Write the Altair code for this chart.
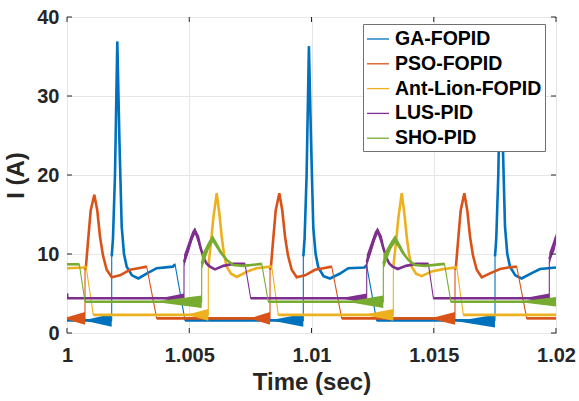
import altair as alt
import pandas as pd

NAMES = ["GA-FOPID", "PSO-FOPID", "Ant-Lion-FOPID", "LUS-PID", "SHO-PID"]
COLORS = ["#0072BD", "#D95319", "#EDB120", "#7E2F8E", "#77AC30"]

X_TICKS = [1.0, 1.005, 1.01, 1.015, 1.02]
Y_TICKS = [0, 10, 20, 30, 40]

# Inductor current traces: time (s) and current (A)
ga_t = [1.0, 1.001828, 1.001829, 1.001881, 1.001963, 1.002057, 1.002147, 1.002237, 1.002331,
        1.002442, 1.002658, 1.002916, 1.003313, 1.003669, 1.004335, 1.004417, 1.004826,
        1.009665, 1.009666, 1.009718, 1.009800, 1.009894, 1.009984, 1.010074, 1.010168,
        1.010279, 1.010495, 1.010753, 1.011150, 1.011506, 1.012172, 1.012254, 1.012663,
        1.017505, 1.017506, 1.017558, 1.017640, 1.017734, 1.017824, 1.017914, 1.018008,
        1.018119, 1.018335, 1.018593, 1.018990, 1.019346, 1.020]
ga_i = [1.6, 1.6, 9.7, 12, 20, 36.9, 24, 13.5, 10, 8.4, 7.3, 6.9, 7.6, 8.2, 8.4, 8.7, 1.6,
        1.6, 9.7, 12, 20, 36.3, 24, 13.3, 10, 8.3, 7.2, 6.9, 7.5, 8.2, 8.3, 8.6, 1.6,
        1.6, 9.7, 12, 20, 36.5, 24, 13.5, 10, 8.4, 7.3, 6.9, 7.55, 8.1, 8.3]

pso_t = [1.0, 1.000736, 1.000737, 1.000777, 1.000871, 1.000969, 1.001117, 1.001239, 1.001350,
         1.001472, 1.001624, 1.001828, 1.002168, 1.002577, 1.002916, 1.003260, 1.003669,
         1.008303, 1.008304, 1.008344, 1.008438, 1.008536, 1.008684, 1.008806, 1.008917,
         1.009039, 1.009191, 1.009395, 1.009735, 1.010144, 1.010483, 1.010827, 1.011236,
         1.015869, 1.015870, 1.015910, 1.016004, 1.016102, 1.016250, 1.016372, 1.016483,
         1.016605, 1.016757, 1.016961, 1.017301, 1.017710, 1.018049, 1.018393, 1.018802, 1.020]
pso_i = [1.85, 1.85, 8.0, 8.5, 12, 15.5, 17.5, 15.5, 12.2, 9.8, 8.0, 7.05, 7.3, 8.0, 8.2, 8.4, 1.85,
         1.85, 8.0, 8.5, 12, 15.5, 17.7, 15.5, 12.2, 9.8, 8.0, 7.05, 7.3, 8.0, 8.2, 8.4, 1.85,
         1.85, 8.0, 8.5, 12, 15.5, 17.7, 15.5, 12.2, 9.8, 8.0, 7.05, 7.55, 8.1, 8.3, 8.4, 1.85, 1.85]

al_t = [1.0, 1.000700, 1.000777, 1.001076, 1.005779, 1.005780, 1.005890, 1.005984, 1.006123,
        1.006237, 1.006327, 1.006421, 1.006532, 1.006708, 1.006941, 1.007350, 1.007759,
        1.008303, 1.008372, 1.008642,
        1.013346, 1.013347, 1.013457, 1.013551, 1.013690, 1.013804, 1.013894, 1.013988,
        1.014099, 1.014275, 1.014508, 1.014917, 1.015326, 1.015870, 1.015939, 1.016209, 1.020]
al_i = [8.2, 8.3, 8.45, 2.3, 2.3, 8.4, 11.5, 14.5, 17.7, 15, 12.2, 10, 8.4, 7.5, 7.1, 7.75, 8.2,
        8.4, 8.45, 2.3,
        2.3, 8.4, 11.5, 14.5, 17.7, 15, 12.2, 10, 8.4, 7.5, 7.2, 7.8, 8.05, 8.3, 8.35, 2.3, 2.3]

lus_t = [1.0, 1.000020, 1.004785, 1.004786, 1.004949, 1.005112, 1.005235, 1.005358, 1.005460,
         1.005575, 1.005706, 1.005849, 1.006053, 1.006393, 1.006802, 1.007280, 1.007513,
         1.012258, 1.012259, 1.012422, 1.012585, 1.012708, 1.012831, 1.012933, 1.013048,
         1.013179, 1.013322, 1.013526, 1.013866, 1.014275, 1.014780, 1.014986,
         1.019726, 1.019727, 1.019890, 1.020]
lus_i = [5.0, 4.4, 4.4, 9.0, 10.5, 12.2, 12.95, 12.2, 10.8, 9.65, 8.8, 8.4, 8.05, 8.5, 8.75, 8.75, 4.4,
         4.4, 9.0, 10.5, 12.2, 12.95, 12.2, 10.8, 9.65, 8.8, 8.4, 8.1, 8.5, 8.75, 8.75, 4.4,
         4.4, 9.4, 10.5, 12.1]

sho_t = [1.0, 1.000503, 1.000736, 1.005509, 1.005510, 1.005700, 1.005794, 1.005960, 1.006124,
         1.006258, 1.006532, 1.006802, 1.007211, 1.007964, 1.008233,
         1.012937, 1.012938, 1.013128, 1.013250, 1.013420, 1.013580, 1.013700, 1.013960,
         1.014230, 1.014639, 1.015440, 1.015700, 1.020]
sho_i = [8.7, 8.7, 3.95, 3.95, 8.8, 10.3, 11.1, 11.95, 11.1, 10.3, 9.25, 8.6, 8.5, 8.75, 3.95,
         3.95, 8.8, 10.3, 11.1, 11.9, 11.1, 10.3, 9.25, 8.6, 8.5, 8.75, 3.95, 3.95]

# Switching ripple that builds up before each jump: (start, end, level, half-width start, half-width end)
ga_ripple = [(1.000736, 1.001828, 1.6, 0.05, 0.8), (1.008300, 1.009665, 1.6, 0.0, 0.8),
             (1.015940, 1.017505, 1.5, 0.0, 0.8)]
pso_ripple = [(1.0, 1.000736, 1.85, 0.15, 0.8), (1.007485, 1.008303, 1.85, 0.0, 0.8),
              (1.014850, 1.015869, 1.85, 0.0, 0.8)]
al_ripple = [(1.004896, 1.005779, 2.3, 0.0, 0.75), (1.012120, 1.013346, 2.3, 0.0, 0.75)]
lus_ripple = [(1.003804, 1.004785, 4.4, 0.0, 0.6), (1.011166, 1.012258, 4.4, 0.0, 0.6),
              (1.018663, 1.019726, 4.4, 0.0, 0.6)]
sho_ripple = [(1.003530, 1.005509, 3.95, 0.0, 0.8), (1.011440, 1.012937, 3.95, 0.0, 0.8),
              (1.018390, 1.020, 3.95, 0.0, 0.6)]

# Ripple riding on the current crest after a jump: (time, low, high)
lus_crest = [
    [(1.004786, 8.4, 9.9), (1.005112, 11.6, 12.8), (1.005235, 12.5, 13.4), (1.005460, 10.4, 11.2), (1.005706, 8.8, 8.8)],
    [(1.012259, 8.4, 9.9), (1.012585, 11.6, 12.8), (1.012708, 12.5, 13.4), (1.012933, 10.4, 11.2), (1.013179, 8.8, 8.8)],
    [(1.019727, 8.6, 10.2), (1.020, 11.6, 12.6)],
]
sho_crest = [
    [(1.005510, 8.0, 9.9), (1.005794, 10.6, 11.6), (1.005960, 11.5, 12.4), (1.006124, 10.7, 11.5), (1.006532, 9.25, 9.25)],
    [(1.012938, 8.0, 9.9), (1.013250, 10.6, 11.6), (1.013420, 11.4, 12.4), (1.013580, 10.7, 11.5), (1.013960, 9.25, 9.25)],
]

traces = [
    (ga_t, ga_i, ga_ripple, []),
    (pso_t, pso_i, pso_ripple, []),
    (al_t, al_i, al_ripple, []),
    (lus_t, lus_i, lus_ripple, lus_crest),
    (sho_t, sho_i, sho_ripple, sho_crest),
]

FONT = "Liberation Sans"
INK = "#262626"

x_scale = alt.Scale(domain=[1.0, 1.02], nice=False, zero=False)
y_scale = alt.Scale(domain=[0, 40], nice=False, zero=False)
x_axis = alt.Axis(values=X_TICKS, format=".3~f", title="Time (sec)", ticks=False, domain=False,
                  labelFlush=False, labelOverlap=False, labelPadding=12, titlePadding=5)
y_axis = alt.Axis(values=Y_TICKS, title="I (A)", ticks=False, domain=False,
                  labelPadding=8, titlePadding=8)
color_scale = alt.Scale(domain=NAMES, range=COLORS)
legend = alt.Legend(orient="none", legendX=296, legendY=7, title=None, symbolType="stroke",
                    symbolSize=484, symbolStrokeWidth=1.3, labelFont=FONT, labelFontSize=19.5,
                    labelFontWeight="bold", labelColor="#000000", strokeColor="#707070",
                    fillColor="white", padding=3, rowPadding=2.8, labelOffset=5)
color_enc = alt.Color("series:N", scale=color_scale, legend=legend)


def pieces(vals):
    """Split a trace into its slow stretches; a step between the low level and the
    crest (a fast switching edge) starts a new piece."""
    ids, cur = [0], 0
    for a, b in zip(vals[:-1], vals[1:]):
        if min(a, b) < 5.5 and max(a, b) > 6.5:
            cur += 1
        ids.append(cur)
    return ids


layers = []
for name, color, (ts, vals, ripple, crest) in zip(NAMES, COLORS, traces):
    # each ripple envelope is its own small polygon between a lower and an upper edge
    segments = []
    for t0, t1, lvl, s0, s1 in ripple:
        segments.append(pd.DataFrame({"t": [t0, t1], "lo": [lvl - s0, lvl - s1],
                                      "hi": [lvl + s0, lvl + s1]}))
    for seg in crest:
        segments.append(pd.DataFrame(seg, columns=["t", "lo", "hi"]))
    for seg_df in segments:
        layers.append(
            alt.Chart(seg_df).mark_area(color=color, opacity=1).encode(
                x=alt.X("t:Q", scale=x_scale, axis=x_axis),
                y=alt.Y("lo:Q", scale=y_scale, axis=y_axis),
                y2=alt.Y2("hi:Q"),
            )
        )
    line_df = pd.DataFrame({"t": ts, "i": vals, "series": name, "k": range(len(ts)),
                            "piece": pieces(vals)})
    # thin trace through every point, switching edges included
    layers.append(
        alt.Chart(line_df).mark_line(strokeWidth=1.1, clip=True).encode(
            x=alt.X("t:Q", scale=x_scale, axis=x_axis),
            y=alt.Y("i:Q", scale=y_scale, axis=y_axis),
            color=color_enc,
            order=alt.Order("k:Q"),
        )
    )
    # heavier stroke on the slow stretches, where the switching ripple thickens the trace
    layers.append(
        alt.Chart(line_df).mark_line(strokeWidth=2.6, clip=True).encode(
            x=alt.X("t:Q", scale=x_scale, axis=x_axis),
            y=alt.Y("i:Q", scale=y_scale, axis=y_axis),
            color=color_enc,
            detail="piece:N",
            order=alt.Order("k:Q"),
        )
    )

# Inward tick marks on all four sides of the box
xt = pd.DataFrame({"v": X_TICKS})
yt = pd.DataFrame({"v": Y_TICKS})
tick_style = dict(color=INK, strokeWidth=1)
for y0, y1 in [(316, 311), (0, 5)]:
    layers.append(alt.Chart(xt).mark_rule(**tick_style).encode(
        x=alt.X("v:Q", scale=x_scale, axis=x_axis), y=alt.value(y0), y2=alt.value(y1)))
for x0, x1 in [(0, 5), (489, 484)]:
    layers.append(alt.Chart(yt).mark_rule(**tick_style).encode(
        y=alt.Y("v:Q", scale=y_scale, axis=y_axis), x=alt.value(x0), x2=alt.value(x1)))

chart = alt.layer(*layers).properties(
    width=489, height=316,
    autosize=alt.AutoSizeParams(type="none"),
    padding={"left": 67, "top": 17, "right": 23, "bottom": 68},
    background="white",
).configure_view(
    stroke=INK, strokeWidth=1
).configure_axis(
    labelFont=FONT, labelFontSize=20, labelFontWeight="bold", labelColor=INK,
    titleFont=FONT, titleFontSize=24, titleFontWeight="bold", titleColor=INK,
    gridColor="#e6e6e6", gridWidth=1,
)

chart.save("out.html", embed_options={"renderer": "svg", "actions": False})
